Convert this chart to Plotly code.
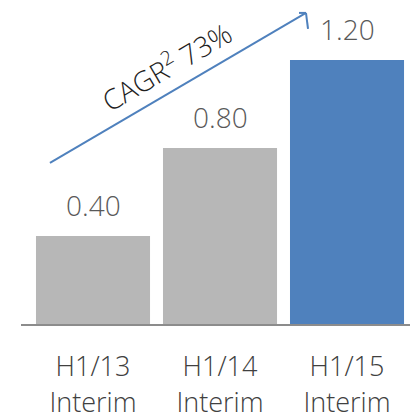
import plotly.graph_objects as go

# Interim dividend per share by half-year
periods = ["H1/13<br>Interim", "H1/14<br>Interim", "H1/15<br>Interim"]
dividends = [0.40, 0.80, 1.20]
bar_colors = ["#b7b7b7", "#b7b7b7", "#4f81bd"]
growth_label = "CAGR<sup>2</sup> 73%"

FONT = "Open Sans"
x_idx = list(range(len(periods)))

fig = go.Figure(
    go.Bar(
        x=x_idx,
        y=dividends,
        marker=dict(color=bar_colors, line=dict(width=0)),
        hoverinfo="skip",
    )
)

# value labels above each bar
for xi, v in zip(x_idx, dividends):
    fig.add_annotation(
        x=xi, y=v, text=f"{v:.2f}", showarrow=False,
        yanchor="bottom", yshift=10,
        font=dict(family=FONT, size=28, color="#595959", weight=300),
    )

# growth arrow (shaft + open chevron head)
arrow_color = "#4f81bd"
tail = (-0.339, 0.732)
tip = (1.677, 1.414)
fig.add_shape(type="line", x0=tail[0], y0=tail[1], x1=tip[0], y1=tip[1],
              line=dict(color=arrow_color, width=2))
fig.add_shape(type="line", x0=1.622, y0=1.414, x1=tip[0], y1=tip[1],
              line=dict(color=arrow_color, width=2))
fig.add_shape(type="line", x0=1.693, y0=1.341, x1=tip[0], y1=tip[1],
              line=dict(color=arrow_color, width=2))

fig.add_annotation(
    x=0.575, y=1.175, text=growth_label, showarrow=False, textangle=-30.4,
    font=dict(family=FONT, size=28, color="#1f1f1f", weight=300),
)

fig.update_layout(
    width=410, height=418,
    margin=dict(l=21, r=0, t=0, b=94),
    paper_bgcolor="white", plot_bgcolor="white",
    bargap=0.102,
    showlegend=False,
    xaxis=dict(
        range=[-0.567, 2.496],
        tickmode="array", tickvals=x_idx, ticktext=periods,
        showgrid=False, zeroline=False, automargin=False,
        showline=True, linecolor="#8c8c8c", linewidth=2,
        ticks="", ticklabelstandoff=18,
        tickfont=dict(family=FONT, size=27, color="#404040", weight=300),
    ),
    yaxis=dict(
        range=[0, 1.4727], visible=False, showgrid=False, zeroline=False,
        automargin=False,
    ),
)

fig.write_html("out.html")
